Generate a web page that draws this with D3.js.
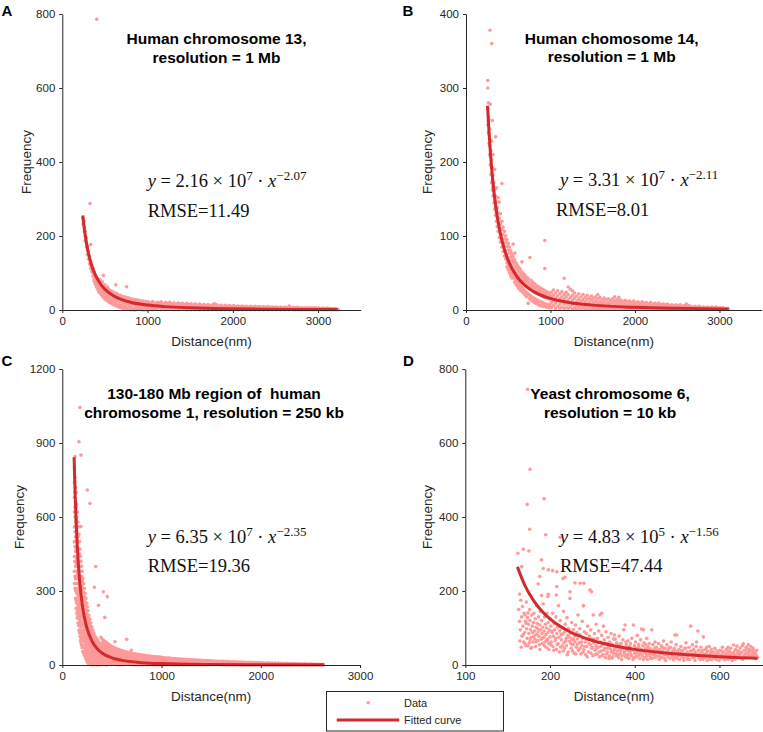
<!DOCTYPE html>
<html><head><meta charset="utf-8">
<script src="https://cdn.jsdelivr.net/npm/d3@7"></script>
<style>body{margin:0;background:#fff}svg{display:block}</style>
</head><body>
<svg id="chart" width="763" height="732"></svg>
<script>
// ---------------- DATA ----------------
const panelLetters = ['A','B','C','D'];
const titleA = ['Human chromosome 13,', 'resolution = 1 Mb'];
const titleB = ['Human chomosome 14,', 'resolution = 1 Mb'];
const titleC = ['130-180 Mb region of  human', 'chromosome 1, resolution = 250 kb'];
const titleD = ['Yeast chromosome 6,', 'resolution = 10 kb'];

const xTicksA = [0,1000,2000,3000], xTickLabelsA = ['0','1000','2000','3000'];
const yTicksA = [0,200,400,600,800];
const xTicksB = [0,1000,2000,3000], xTickLabelsB = ['0','1000','2000','3000'];
const yTicksB = [0,100,200,300,400];
const xTicksC = [0,1000,2000,3000], xTickLabelsC = ['0','1000','2000','3000'];
const yTicksC = [0,300,600,900,1200];
const xTicksD = [0,200,400,600], xTickLabelsD = ['100','200','400','600'];
const yTicksD = [0,200,400,600,800];

const xDomainA = [0,3500], yDomainA = [0,800];
const xDomainB = [0,3500], yDomainB = [0,400];
const xDomainC = [0,3000], yDomainC = [0,1200];
const xDomainD = [0,702],  yDomainD = [0,800];

// fit equations: coefficient, power of ten, exponent of x, RMSE
const fitA = ['2.16','7','\u22122.07','11.49'];
const fitB = ['3.31','7','\u22122.11','8.01'];
const fitC = ['6.35','7','\u22122.35','19.36'];
const fitD = ['4.83','5','\u22121.56','47.44'];

// fitted curves (sampled)
const curveAx = [240,250,260,275,300,325,350,375,400,450,500,600,700,800,1000,1200,1500,2000,2500,3000,3230];
const curveAy = [255.5,234.8,216.5,192.7,161.0,136.4,117.0,101.5,88.7,69.6,55.9,38.3,27.9,21.1,13.3,9.13,5.76,3.17,2.00,1.37,1.17];
const curveBx = [255,265,275,300,325,350,400,450,500,600,700,800,1000,1200,1500,2000,2500,3000,3110];
const curveBy = [276,255.1,235.9,196.4,165.9,141.9,107.0,83.5,66.8,45.5,32.8,24.8,15.5,10.5,6.58,3.59,2.24,1.52,1.41];
const curveCx = [119,125,130,140,150,162,175,200,225,250,300,350,400,500,600,800,1000,1500,2000,2640];
const curveCy = [842,750,684,575,489,407.8,340,248.5,188.4,147.1,95.8,66.7,48.7,28.9,18.8,9.56,5.66,2.18,1.11,0.58];
const curveDx = [123,140,160,180,200,250,300,350,400,450,500,550,600,650,690];
const curveDy = [265.2,216.8,176.2,146.6,124.4,87.8,66.1,51.9,42.2,35.1,29.8,25.7,22.4,19.8,18.0];

// scatter data: [distance, [frequencies...]]
const scatterA = [
[245,[248,232]],[258,[225,212,240]],[270,[200,188,212]],[282,[182,170,195]],[295,[162,150,172]],
[308,[148,138,158]],[320,[135,125,146]],[325,[288]],[333,[120,112,177,130]],[346,[112,104,122]],
[360,[100,92,112]],[373,[92,84,104,78]],[386,[85,76,96,70]],[400,[78,68,90,62]],[404,[786]],
[414,[72,62,84,56]],[428,[66,56,78,50]],[442,[62,52,74,46,82]],[456,[58,47,70,42]],[470,[54,44,66,38,76]],
[481,[94]],[485,[50,40,62,34]],[500,[47,36,58,30,68]],[515,[44,33,55,27]],[530,[41,30,52,24,62]],
[545,[38,28,48,22,56]],[560,[36,26,46,20]],[575,[34,24,44,18,52]],[590,[32,22,42,16]],[605,[30,20,40,14,48]],
[620,[28,18,38,12]],[627,[68]],[635,[27,17,36,11,45]],[650,[25,15,34,10,42]],[665,[24,14,33,8]],
[680,[23,13,31,7,40]],[695,[22,12,30,6]],[710,[21,11,29,5,37]],[725,[20,10,28,4]],[740,[19,9,27,3,35]],
[754,[63,18,8,26]],[770,[17,7,25,2,33]],[785,[16,6,24,2]],[800,[16,6,23,1,31]],[815,[15,5,22,2]],
[830,[14,4,21,1,29]],[845,[14,4,20,1]],[860,[13,3,20,1,28]],[875,[13,3,19,8]],[890,[12,2,18,7,27]],
[905,[12,2,18,6]],[920,[11,2,17,6,25]],[935,[11,1,16,5]],[950,[10,1,16,5,24]],[965,[10,1,15,4]],
[980,[10,1,15,4,23]],[995,[9,1,14,3]],
[1010,[2,9,16,22]],[1035,[5,12,19]],[1060,[1,8,15,23]],[1085,[4,11,18]],[1110,[2,9,14,21]],
[1135,[6,12,20]],[1160,[1,7,15,22]],[1185,[3,10,17]],[1210,[1,8,13,20]],[1235,[4,11,18]],
[1260,[2,7,14,21]],[1285,[5,10,17]],[1310,[1,8,13,19]],[1335,[3,9,16]],[1360,[1,6,12,19]],
[1385,[4,10,16]],[1410,[2,7,13,18]],[1435,[4,9,15]],[1460,[1,6,12,18]],[1485,[3,9,15]],
[1510,[1,6,11,17]],[1535,[3,8,14]],[1560,[1,5,11,16]],[1585,[3,8,13]],[1610,[1,5,10,16]],
[1635,[3,7,13]],[1660,[1,5,10,15]],[1685,[2,7,12]],[1710,[1,4,9,15]],[1735,[2,7,12]],
[1760,[1,4,9,14]],[1785,[2,6,11,17]],[1810,[1,4,9,14]],[1835,[2,6,11]],[1860,[1,4,8,13]],
[1885,[2,6,10]],[1910,[1,4,8,13]],[1935,[2,5,10]],[1960,[1,3,8,12]],[1985,[2,5,10]],
[2010,[1,3,7,12]],[2035,[2,5,9]],[2060,[1,3,7,11]],[2085,[2,5,9]],[2110,[1,3,7,11]],
[2135,[2,4,9]],[2160,[1,3,6,10]],[2185,[2,4,8]],[2210,[1,3,6,10]],[2235,[2,4,8]],
[2260,[1,3,6,10]],[2285,[2,4,8]],[2310,[1,3,6,9]],[2335,[2,4,7]],[2360,[1,3,5,9]],
[2385,[2,4,7]],[2410,[1,3,5,9]],[2435,[2,4,7]],[2460,[1,3,5,8]],[2485,[2,4,7]],
[2510,[1,3,5,8]],[2535,[2,4,6]],[2560,[1,3,5,8]],[2585,[2,4,6]],[2610,[1,2,5,8]],
[2635,[2,4,6]],[2660,[1,2,4,7,11]],[2685,[2,4,6]],[2710,[1,2,4,7]],[2735,[1,3,6]],
[2760,[1,2,4,7]],[2785,[1,3,5]],[2810,[1,2,4,6]],[2835,[1,3,5]],[2860,[1,2,4,6]],
[2885,[1,3,5]],[2910,[1,2,4,6]],[2935,[1,3,5]],[2960,[1,2,3,6]],[2985,[1,3,5]],
[3010,[1,2,3,5]],[3035,[1,3,4]],[3060,[1,2,3,5]],[3085,[1,2,4]],[3110,[1,2,3,5]],
[3135,[1,2,4]],[3160,[1,2,3]],[3185,[1,2,4]],[3210,[1,2,3]],[3235,[1,2]]
];

const scatterB = [
[258,[272,300,310,250]],[265,[255,280,240,262]],[272,[238,258,225]],[280,[222,245,210]],[284,[378]],
[288,[208,230,196,278]],[296,[195,215,183]],[304,[360,185,203,172,228]],[312,[175,192,162,256]],
[320,[166,182,154,210]],[330,[156,172,145]],[340,[148,163,136,190]],[350,[140,154,128,234]],
[360,[132,146,120,165]],[370,[125,138,113]],[380,[118,131,106,152]],[394,[110,124,98,146]],
[408,[103,116,92,130]],[425,[96,109,85,171,120]],[440,[90,102,79,112]],[455,[85,96,73,106]],
[470,[80,91,69,100]],[485,[75,86,64,95,58]],[500,[70,81,60,90,54]],[515,[66,77,56,85,50]],
[530,[62,72,52,80,46]],[545,[59,68,49,76,43]],[559,[89,56,65,46,72]],[575,[53,62,43,68,38]],
[579,[77]],[590,[50,59,41,64,35]],[605,[48,56,38,61,33]],[620,[46,53,36,58,30]],[635,[44,51,34,56,28]],
[650,[42,49,32,53,26]],[662,[65,40,47,30]],[675,[38,45,28,50,24]],[690,[36,43,26,48,22]],
[705,[34,41,25,46,20]],[720,[33,39,23,44,18]],[737,[31,37,22,9,42]],[756,[71,30,35,20,16]],
[770,[28,34,18,40,14]],[785,[27,32,17,38,12]],[800,[26,31,16,36,11]],[815,[25,30,15,10,35]],
[830,[24,29,14,33,9]],[845,[23,28,13,32,8]],[860,[22,27,12,31,7]],[875,[21,26,11,30,6]],
[890,[20,25,11,29,6]],[905,[19,24,10,28,5]],[920,[18,23,9,27,5]],[933,[94,56,17,22,8,26]],
[950,[17,21,8,25,4]],[965,[16,21,7,24,4]],[980,[15,20,7,23,3]],[995,[15,19,6,22,3]],
[1010,[3,10,17,24]],[1035,[6,13,20,27]],[1060,[2,9,16,23]],[1085,[5,12,19,26]],[1110,[2,8,15,22]],
[1135,[4,11,18,25]],[1162,[43,2,8,15,21]],[1185,[4,11,18,24]],[1210,[31,2,8,14,21]],[1235,[4,10,17,28]],
[1260,[1,7,13,20,26]],[1285,[3,9,16,23]],[1310,[1,6,12,19]],[1335,[3,9,15,22]],[1360,[1,6,12,18]],
[1385,[3,8,14,21]],[1410,[1,5,11,17]],[1435,[3,8,14,20]],[1460,[1,5,10,16]],[1485,[2,7,13,19]],
[1510,[1,5,10,16]],[1535,[2,7,12,18]],[1560,[1,4,9,15,21]],[1585,[2,6,11,17]],[1610,[1,4,9,14]],
[1635,[2,6,11,16]],[1660,[1,4,8,14]],[1685,[2,6,10,15]],[1710,[1,3,8,13]],[1735,[2,5,10,15]],
[1760,[1,3,7,12,18]],[1785,[2,5,9,14]],[1810,[1,3,7,12,17]],[1835,[2,5,9,13]],[1860,[1,3,7,11]],
[1885,[2,4,8,13]],[1910,[1,3,6,11]],[1935,[2,4,8,12]],[1960,[1,3,6,10]],[1985,[2,4,8,12]],
[2010,[1,3,6,10]],[2035,[2,4,7,11]],[2060,[1,3,5,9]],[2085,[2,4,7,11]],[2110,[1,3,5,9]],
[2135,[2,4,7,10]],[2160,[1,3,5,8]],[2185,[2,4,6,10]],[2210,[1,2,5,8]],[2235,[2,4,6,9]],
[2260,[1,2,4,8]],[2285,[1,3,6,9]],[2310,[1,2,4,7]],[2335,[1,3,5,8]],[2360,[1,2,4,7]],
[2385,[1,3,5,8]],[2410,[1,2,4,6]],[2435,[1,3,5,7]],[2460,[1,2,4,6]],[2485,[1,3,5,7]],
[2510,[1,2,3,6]],[2535,[1,2,4,7]],[2560,[1,2,3,5]],[2585,[1,2,4,6]],[2610,[1,2,3,5,8]],
[2635,[1,2,4,6]],[2660,[1,2,3,5]],[2685,[1,2,4]],[2710,[1,2,3,5]],[2735,[1,2,4]],
[2760,[1,2,3,5]],[2785,[1,2,3]],[2810,[1,2,3,4]],[2835,[1,2,3]],[2860,[1,2,3,4]],
[2885,[1,2,3]],[2910,[1,2,3,4]],[2935,[1,2,3]],[2960,[1,2,3,4]],[2985,[1,2,3]],
[3010,[1,2,3]],[3040,[1,2,3]],[3070,[1,2]],[3100,[1,2]]
];

const scatterC = [
[122,[800,740,680,620,560,500,440,380,330]],[128,[845,760,700,640,600,540,480,420,360,310]],
[134,[720,660,580,520,460,400,350,300,270]],[140,[700,640,590,520,470,410,360,310,260,230]],
[146,[650,600,540,480,430,380,330,290,250,210]],[152,[620,560,500,440,400,350,300,260,220,190]],
[158,[580,520,470,420,370,330,280,240,200,170]],[164,[560,500,450,400,350,310,270,230,190,160]],
[168,[905,530,470,420,380,330,290,250,210,170,140]],[174,[500,450,400,360,320,280,240,200,160,130]],
[178,[1044,470,420,380,340,300,260,220,180,145,115]],[184,[440,400,360,320,280,240,200,165,130,100]],
[188,[851,561,420,380,340,300,260,225,190,155,120,90]],[194,[400,360,320,280,245,210,175,140,110,80]],
[200,[380,340,300,265,230,195,160,130,100,70]],[207,[350,310,275,240,205,170,140,110,80,55]],
[214,[330,295,260,225,190,160,130,100,75,50]],[222,[310,275,240,210,180,150,120,95,70,40]],
[230,[290,255,225,195,165,140,115,90,60,35]],[238,[270,240,210,180,155,130,105,80,55,25]],
[246,[250,220,195,170,145,120,95,70,45,20]],[252,[709,235,205,180,155,130,110,85,60,35,12]],
[260,[220,190,165,140,120,100,78,55,30,8]],[268,[200,175,150,130,110,90,70,48,25,5]],
[279,[655,185,160,138,118,100,82,62,40,18,3]],[288,[170,148,128,110,92,75,55,35,15,2]],
[298,[155,136,118,100,84,68,50,30,12,2]],[308,[142,125,108,92,77,62,45,28,10,1]],
[318,[130,115,100,85,70,56,40,24,8]],[323,[315,120,105,90,75,60,45,30,15,2]],
[337,[399,112,97,83,70,56,42,28,14,2]],[348,[105,90,77,65,52,40,26,12,1]],
[358,[100,85,72,60,48,36,24,10,1]],[365,[242,92,79,67,55,44,32,20,8]],
[378,[88,75,63,52,41,30,18,6,1]],[390,[112,82,70,59,48,38,27,16,5]],
[402,[105,90,78,66,55,45,35,25,14,4]],[413,[297,100,86,74,62,52,42,32,22,12,3]],
[428,[193,96,82,70,58,48,38,29,19,10,2]],[442,[92,78,66,55,45,36,27,18,9,1]],
[453,[277,88,74,62,52,42,33,24,16,7,1]],[468,[84,71,60,50,40,31,23,15,6]],
[482,[80,68,56,47,38,30,22,14,5]],[496,[76,65,54,45,36,28,20,12,4]],
[510,[73,62,52,43,34,26,19,11,3]],[524,[70,60,50,41,33,25,18,10,3]],[531,[94]],
[546,[67,57,47,38,30,22,15,8,2]],[560,[64,54,45,37,29,21,14,7,1]],
[575,[62,52,43,35,27,20,13,6,1]],[590,[60,50,42,34,26,19,12,6,1]],
[605,[58,48,40,33,25,18,11,5]],[620,[56,47,39,32,24,17,10,4,1]],
[635,[54,45,37,30,23,16,9,4]],[649,[104,52,44,36,29,22,15,9,3]],
[665,[50,42,35,28,21,14,8,3]],[680,[49,41,34,27,20,13,7,2]],
[695,[60,47,40,33,26,19,13,7,2]],[710,[46,38,31,25,18,12,6,2]],
[725,[45,37,30,24,17,11,6,1]],[740,[44,36,29,23,16,10,5,1]],
[755,[43,35,28,22,16,10,5,1]],[770,[42,34,27,21,15,9,4]],
[785,[41,33,26,20,14,9,4,1]],[800,[40,32,25,19,14,8,3]],
[815,[39,31,25,19,13,8,3,1]],[830,[38,30,24,18,13,7,3]],
[845,[37,30,23,18,12,7,2]],[860,[36,29,23,17,12,7,2,1]],
[875,[36,28,22,17,11,6,2]],[890,[35,28,22,16,11,6,2]],
[905,[34,27,21,16,11,6,2,1]],[920,[34,27,21,15,10,5,1]],
[935,[33,26,20,15,10,5,1]],[950,[33,26,20,15,10,5,1]],
[965,[32,25,19,14,9,5,1]],[980,[32,25,19,14,9,4,1]],[995,[31,24,18,13,9,4,1]],
[1015,[30,23,17,12,8,4,1]],[1035,[29,22,17,12,8,3]],[1055,[28,22,16,11,7,3,1]],
[1075,[28,21,16,11,7,3]],[1095,[27,21,15,10,6,3,1]],[1115,[26,20,15,10,6,2]],
[1135,[26,19,14,10,6,2,1]],[1155,[25,19,14,9,5,2]],[1175,[24,18,13,9,5,2,1]],
[1195,[24,18,13,9,5,2]],[1215,[23,17,13,8,5,2,1]],[1235,[23,17,12,8,4,1]],
[1255,[22,16,12,8,4,1]],[1275,[22,16,12,8,4,1]],[1295,[21,16,11,7,4,1]],
[1315,[21,15,11,7,4,1]],[1335,[20,15,11,7,3,1]],[1355,[20,15,10,7,3,1]],
[1375,[19,14,10,6,3,1]],[1395,[19,14,10,6,3,1]],[1415,[18,14,10,6,3,1]],
[1435,[18,13,9,6,3,1]],[1455,[18,13,9,6,3,1]],[1475,[17,13,9,5,2]],
[1495,[17,12,9,5,2]],[1520,[16,12,8,5,2]],[1545,[16,12,8,5,2]],
[1570,[15,11,8,5,2]],[1595,[15,11,8,4,2]],[1620,[15,11,7,4,1]],
[1645,[14,10,7,4,1]],[1670,[14,10,7,4,1]],[1695,[13,10,7,4,1]],
[1720,[13,9,6,4,1]],[1745,[13,9,6,3,1]],[1770,[12,9,6,3,1]],
[1795,[12,9,6,3,1]],[1820,[12,8,6,3,1]],[1845,[11,8,5,3,1]],
[1870,[11,8,5,3,1]],[1895,[11,8,5,3,1]],[1920,[10,7,5,3,1]],
[1945,[10,7,5,2]],[1970,[10,7,5,2]],[1995,[10,7,4,2]],
[2025,[9,6,4,2]],[2055,[9,6,4,2]],[2085,[9,6,4,1]],[2115,[8,6,4,1]],
[2145,[8,5,3,1]],[2175,[8,5,3,1]],[2205,[7,5,3,1]],[2235,[7,5,3,1]],
[2265,[7,4,2,1]],[2295,[6,4,2,1]],[2325,[6,4,2]],[2355,[6,4,2]],
[2385,[5,3,2]],[2415,[5,3,1]],[2445,[5,3,1]],[2475,[4,3,1]],
[2505,[4,2,1]],[2535,[4,2,1]],[2565,[3,2,1]],[2595,[3,2,1]],[2625,[3,1]]
];

const scatterD = [
[147,[745]],[153,[529]],[146,[434]],[186,[449]],[152,[367]],[190,[352]],[124,[302]],[137,[313]],
[150,[308]],[180,[284]],[224,[345]],[184,[261]],[196,[257]],[133,[266]],[206,[255]],[216,[252]],
[176,[239]],[231,[234]],[259,[222]],[280,[221]],[216,[212]],[247,[198]],[298,[198]],[172,[219]],
[196,[191]],[128,[192]],[180,[188]],[195,[185]],[215,[189]],[279,[160]],[302,[135]],[322,[140]],
[135,[158]],[141,[135]],[148,[141]],[326,[105]],[352,[81]],[354,[70]],[374,[95]],[397,[108]],
[416,[97]],[440,[95]],[499,[81]],[532,[105]],[549,[92]],[641,[51]],[656,[57]],[676,[38]],
[294,[203]],[271,[221]],[235,[237]],[318,[135]],[377,[108]],[420,[95]],[495,[81]],[562,[76]],[633,[54]],
[126,[150]],[128,[118]],[130,[95]],[131,[175]],[133,[130]],[134,[78]],[136,[105]],[138,[62]],
[139,[140]],[140,[88]],[142,[118]],[143,[52]],[144,[170]],[145,[98]],[146,[72]],[147,[128]],
[149,[110]],[150,[85]],[151,[60]],[152,[150]],[153,[120]],[154,[95]],[155,[45]],[156,[75]],
[157,[135]],[158,[105]],[159,[88]],[160,[62]],[161,[115]],[162,[140]],[163,[92]],[164,[70]],
[165,[125]],[166,[50]],[167,[102]],[168,[82]],[169,[160]],[170,[112]],[171,[66]],[172,[90]],
[173,[130]],[174,[78]],[175,[55]],[176,[108]],[177,[145]],[178,[95]],[179,[70]],[180,[120]],
[181,[85]],[182,[58]],[183,[102]],[184,[165]],[185,[75]],[186,[92]],[187,[130]],[188,[62]],
[189,[110]],[190,[82]],[191,[48]],[192,[100]],[193,[140]],[194,[70]],[195,[88]],[196,[115]],
[197,[58]],[198,[95]],[199,[125]],[200,[76]],
[202,[105]],[203,[62]],[205,[88]],[206,[140]],[207,[50]],[208,[78]],[210,[112]],[211,[95]],
[212,[66]],[214,[130]],[215,[42]],[216,[85]],[218,[102]],[219,[58]],[220,[160]],[221,[75]],
[223,[92]],[224,[120]],[225,[48]],[227,[68]],[228,[100]],[230,[84]],[231,[38]],[232,[145]],
[233,[60]],[235,[90]],[236,[110]],[238,[72]],[239,[52]],[240,[128]],[242,[80]],[243,[35]],
[244,[98]],[246,[64]],[247,[180]],[248,[86]],[250,[45]],[251,[115]],[252,[70]],[254,[55]],
[255,[95]],[257,[32]],[258,[78]],[259,[62]],[260,[108]],[262,[48]],[263,[88]],[265,[70]],
[266,[135]],[267,[40]],[269,[60]],[270,[98]],[272,[80]],[273,[30]],[275,[52]],[276,[118]],
[277,[72]],[279,[160]],[280,[42]],[281,[90]],[283,[62]],[284,[28]],[286,[85]],[287,[50]],
[289,[105]],[290,[68]],[291,[36]],[293,[78]],[295,[55]],[296,[95]],[298,[45]],[299,[70]],
[301,[25]],[303,[60]],[305,[85]],[306,[40]],[308,[52]],[309,[110]],[311,[30]],[312,[72]],
[314,[48]],[315,[92]],[317,[22]],[319,[62]],[321,[38]],[322,[80]],[324,[55]],[325,[28]],
[328,[68]],[329,[45]],[331,[20]],[332,[90]],[334,[58]],[335,[35]],[337,[75]],[338,[50]],
[340,[25]],[341,[62]],[343,[42]],[344,[85]],[346,[18]],[347,[55]],[349,[32]],[350,[70]],
[353,[45]],[356,[25]],[357,[60]],[359,[38]],[360,[52]],[362,[20]],[363,[78]],[365,[42]],
[366,[30]],[368,[58]],[369,[15]],[371,[48]],[372,[68]],[375,[35]],[378,[22]],[380,[55]],
[381,[40]],[383,[28]],[384,[65]],[386,[18]],[387,[48]],[389,[36]],[390,[58]],[392,[25]],
[393,[72]],[395,[42]],[396,[15]],[399,[52]],[400,[32]],[402,[62]],[403,[22]],[405,[45]],
[406,[80]],[408,[28]],[409,[55]],[411,[38]],[412,[18]],[414,[68]],[415,[42]],[418,[25]],
[419,[52]],[421,[35]],[422,[60]],[424,[20]],[425,[45]],[427,[30]],[428,[72]],[430,[15]],
[431,[50]],[433,[38]],[434,[58]],[436,[24]],[437,[44]],[439,[32]],[442,[18]],[443,[55]],
[445,[40]],[446,[28]],[448,[62]],[449,[20]],
[451,[48]],[453,[35]],[454,[25]],[456,[58]],[458,[15]],[459,[42]],[461,[30]],[463,[52]],
[464,[20]],[466,[38]],[468,[65]],[469,[28]],[471,[45]],[473,[12]],[474,[35]],[476,[55]],
[478,[22]],[479,[40]],[481,[30]],[483,[18]],[484,[48]],[486,[62]],[488,[25]],[489,[38]],
[491,[14]],[493,[45]],[494,[30]],[496,[20]],[498,[55]],[501,[35]],[503,[25]],[504,[42]],
[506,[15]],[508,[32]],[509,[50]],[511,[22]],[513,[38]],[514,[28]],[516,[12]],[518,[45]],
[519,[30]],[521,[60]],[523,[20]],[524,[35]],[526,[25]],[528,[48]],[529,[15]],[531,[38]],
[534,[28]],[536,[55]],[537,[20]],[539,[42]],[541,[30]],[542,[12]],[544,[35]],[546,[62]],
[547,[25]],[551,[40]],[552,[18]],[554,[30]],[556,[48]],[557,[22]],[559,[35]],[561,[15]],
[564,[28]],[566,[42]],[567,[20]],[569,[32]],[571,[12]],[572,[38]],[574,[25]],[576,[50]],
[577,[18]],[579,[30]],[581,[42]],[582,[14]],[584,[26]],[586,[35]],[587,[20]],[589,[45]],
[591,[28]],[592,[15]],[594,[38]],[596,[22]],[597,[32]],[599,[12]],[601,[40]],[602,[25]],
[604,[18]],[606,[30]],[607,[48]],[609,[20]],[611,[35]],[612,[14]],[614,[28]],[616,[42]],
[617,[22]],[619,[32]],[621,[16]],[622,[38]],[624,[26]],[626,[45]],[627,[18]],[629,[30]],
[631,[22]],[634,[35]],[636,[15]],[638,[42]],[639,[25]],[643,[32]],[644,[20]],[646,[38]],
[648,[28]],[649,[46]],[651,[18]],[653,[34]],[654,[52]],[658,[25]],[659,[40]],[661,[30]],
[663,[48]],[664,[20]],[666,[36]],[668,[55]],[669,[28]],[671,[42]],[673,[22]],[674,[50]],
[678,[30]],[679,[46]],[681,[24]],[683,[35]],[684,[18]],[686,[28]],[688,[40]],[689,[22]],
[129,[65]],[132,[48]],[137,[82]],[141,[58]],[144,[112]],[148,[52]],[153,[68]],[157,[48]],
[162,[78]],[167,[62]],[171,[98]],[176,[42]],[182,[72]],[187,[52]],[192,[66]],[197,[42]],
[201,[55]],[204,[92]],[209,[40]],[213,[72]],[217,[55]],[222,[35]],[226,[82]],[229,[52]],
[234,[45]],[237,[65]],[241,[28]],[245,[75]],[249,[58]],[253,[38]],[256,[68]],[261,[30]],
[264,[55]],[268,[82]],[271,[45]],[274,[62]],[278,[35]],[282,[50]],[285,[70]],[288,[22]],
[292,[58]],[297,[32]],[300,[48]],[304,[70]],[307,[28]],[310,[45]],[313,[60]],[316,[35]],
[320,[50]],[323,[25]],[327,[40]],[330,[58]],[333,[30]],[336,[45]],[339,[18]],[342,[52]],
[345,[35]],[348,[22]],[351,[40]],[355,[30]],[358,[48]],[361,[28]],[364,[55]],[367,[38]],
[370,[25]],[373,[45]],[376,[30]],[379,[62]],[382,[20]],[385,[38]],[388,[50]],[391,[28]],
[394,[40]],[398,[20]],[401,[45]],[404,[35]],[407,[25]],[410,[48]],[413,[30]],[417,[40]],
[420,[15]],[423,[35]],[426,[55]],[429,[25]],[432,[42]],[435,[30]],[438,[18]],[441,[38]],
[444,[28]],[447,[45]],[450,[22]],[455,[40]],[460,[22]],[465,[48]],[470,[18]],[475,[28]],
[480,[45]],[485,[32]],[490,[22]],[495,[40]],[500,[18]],[505,[28]],[510,[40]],[515,[20]],
[520,[45]],[525,[15]],[530,[28]],[535,[38]],[540,[20]],[545,[50]],[550,[28]],[555,[15]],
[560,[40]],[565,[22]],[570,[48]],[575,[15]],[580,[35]],[585,[25]],[590,[18]],[595,[30]],
[600,[22]],[605,[38]],[610,[25]],[615,[15]],[620,[48]],[625,[35]],[630,[12]],[635,[28]],
[640,[40]],[645,[22]],[650,[32]],[655,[15]],[660,[25]],[665,[45]],[670,[35]],[675,[25]],
[680,[42]],[685,[30]],[690,[20]]
];

const legendLabels = ['Data', 'Fitted curve'];
const axisLabelX = 'Distance(nm)', axisLabelY = 'Frequency';

// ---------------- DRAW ----------------
const svg = d3.select('#chart');
const SANS = '"Liberation Sans", Arial, Helvetica, sans-serif';
const SERIF = '"Liberation Serif", "Times New Roman", serif';
const DOT = '#ff9a9a', RED = '#d42a2d', AX = '#262626';

const panels = [
  {letter:panelLetters[0], title:titleA, xt:xTicksA, xl:xTickLabelsA, yt:yTicksA, xd:xDomainA, yd:yDomainA,
   fit:fitA, cx:curveAx, cy:curveAy, sc:scatterA,
   box:[62.3,360.7,310,14], letterPos:[1.5,16], titleX:216.5, titleY:[43.5,62.5], ylabX:26.5,
   eqPos:[147.7,187,147.7,216.7]},
  {letter:panelLetters[1], title:titleB, xt:xTicksB, xl:xTickLabelsB, yt:yTicksB, xd:xDomainB, yd:yDomainB,
   fit:fitB, cx:curveBx, cy:curveBy, sc:scatterB,
   box:[466,761.7,310,14], letterPos:[402.5,16], titleX:611.7, titleY:[43.5,62], ylabX:427.5,
   eqPos:[560,186,556,216]},
  {letter:panelLetters[2], title:titleC, xt:xTicksC, xl:xTickLabelsC, yt:yTicksC, xd:xDomainC, yd:yDomainC,
   fit:fitC, cx:curveCx, cy:curveCy, sc:scatterC,
   box:[62.3,360,665,369], letterPos:[1.5,366], titleX:214, titleY:[399.3,417.5], ylabX:19,
   eqPos:[147.7,543.3,147.7,572.3]},
  {letter:panelLetters[3], title:titleD, xt:xTicksD, xl:xTickLabelsD, yt:yTicksD, xd:xDomainD, yd:yDomainD,
   fit:fitD, cx:curveDx, cy:curveDy, sc:scatterD,
   box:[465.3,762.7,665,369], letterPos:[403,366], titleX:610, titleY:[399.3,417.5], ylabX:427.5,
   eqPos:[560,543.3,560,572.3]}
];

panels.forEach(p => {
  const [x0,x1,y0,y1] = p.box;
  const x = d3.scaleLinear().domain(p.xd).range([x0,x1]);
  const y = d3.scaleLinear().domain(p.yd).range([y0,y1]);
  const g = svg.append('g');

  // scatter
  const pts = p.sc.flatMap(([d, fs]) => fs.map(f => [d, f]));
  g.append('g').selectAll('circle').data(pts).join('circle')
    .attr('cx', d => x(d[0])).attr('cy', d => y(d[1])).attr('r', 1.8).attr('fill', DOT);

  // fitted curve
  const line = d3.line().x((d,i) => x(p.cx[i])).y(d => y(d)).curve(d3.curveMonotoneX);
  g.append('path').attr('d', line(p.cy)).attr('fill','none').attr('stroke',RED)
    .attr('stroke-width',3).attr('stroke-linecap','butt');

  // axes
  const xa = d3.axisBottom(x).tickValues(p.xt).tickFormat((d,i) => p.xl[i]).tickSize(3).tickSizeOuter(0).tickPadding(4);
  const ya = d3.axisLeft(y).tickValues(p.yt).tickFormat(d => d).tickSize(3).tickSizeOuter(0).tickPadding(4);
  const gx = g.append('g').attr('transform', `translate(0,${y0})`).call(xa);
  const gy = g.append('g').attr('transform', `translate(${x0},0)`).call(ya);
  [gx, gy].forEach(a => {
    a.selectAll('path,line').attr('stroke', AX).attr('stroke-width', 1);
    a.selectAll('text').attr('fill', AX).attr('font-family', SANS).attr('font-size', 11.5);
  });

  // axis labels
  g.append('text').attr('x', (x0+x1)/2).attr('y', y0 + 36).attr('text-anchor','middle')
    .attr('font-family', SANS).attr('font-size', 13.5).attr('fill', AX).text(axisLabelX);
  g.append('text').attr('transform', `translate(${p.ylabX},${(y0+y1)/2}) rotate(-90)`)
    .attr('text-anchor','middle').attr('dy','0.35em')
    .attr('font-family', SANS).attr('font-size', 13.5).attr('fill', AX).text(axisLabelY);

  // panel letter
  g.append('text').attr('x', p.letterPos[0]).attr('y', p.letterPos[1])
    .attr('font-family', SANS).attr('font-weight','bold').attr('font-size', 15).attr('fill','#000').text(p.letter);

  // title
  p.title.forEach((t,i) => {
    g.append('text').attr('x', p.titleX).attr('y', p.titleY[i]).attr('text-anchor','middle')
      .style('white-space','pre')
      .attr('font-family', SANS).attr('font-weight','bold').attr('font-size', 15.5).attr('fill','#000').text(t);
  });

  // equation
  const [ex, ey, rx, ry] = p.eqPos;
  const eq = g.append('text').attr('x', ex).attr('y', ey).attr('font-family', SERIF)
    .attr('font-size', 18.5).attr('fill', '#111').style('white-space','pre');
  eq.append('tspan').attr('font-style','italic').text('y');
  eq.append('tspan').text(' = ' + p.fit[0] + ' \u00d7 10');
  eq.append('tspan').attr('dy', -7).attr('font-size', 13).text(p.fit[1]);
  eq.append('tspan').attr('dy', 7).text(' \u00b7 ');
  eq.append('tspan').attr('font-style','italic').text('x');
  eq.append('tspan').attr('dy', -7).attr('font-size', 13).text(p.fit[2]);
  g.append('text').attr('x', rx).attr('y', ry).attr('font-family', SERIF)
    .attr('font-size', 18.5).attr('fill', '#111').text('RMSE=' + p.fit[3]);
});

// legend
const lg = svg.append('g');
lg.append('rect').attr('x', 326.5).attr('y', 691.5).attr('width', 177).attr('height', 39.5)
  .attr('fill','#fff').attr('stroke', AX).attr('stroke-width', 1);
lg.append('circle').attr('cx', 368.3).attr('cy', 702.7).attr('r', 1.8).attr('fill', DOT);
lg.append('line').attr('x1', 336.7).attr('x2', 399.3).attr('y1', 720).attr('y2', 720)
  .attr('stroke', RED).attr('stroke-width', 3);
legendLabels.forEach((t,i) => {
  lg.append('text').attr('x', 404).attr('y', 706.5 + i*17.5).attr('font-family', SANS)
    .attr('font-size', 11).attr('fill', AX).text(t);
});
</script>
</body></html>
